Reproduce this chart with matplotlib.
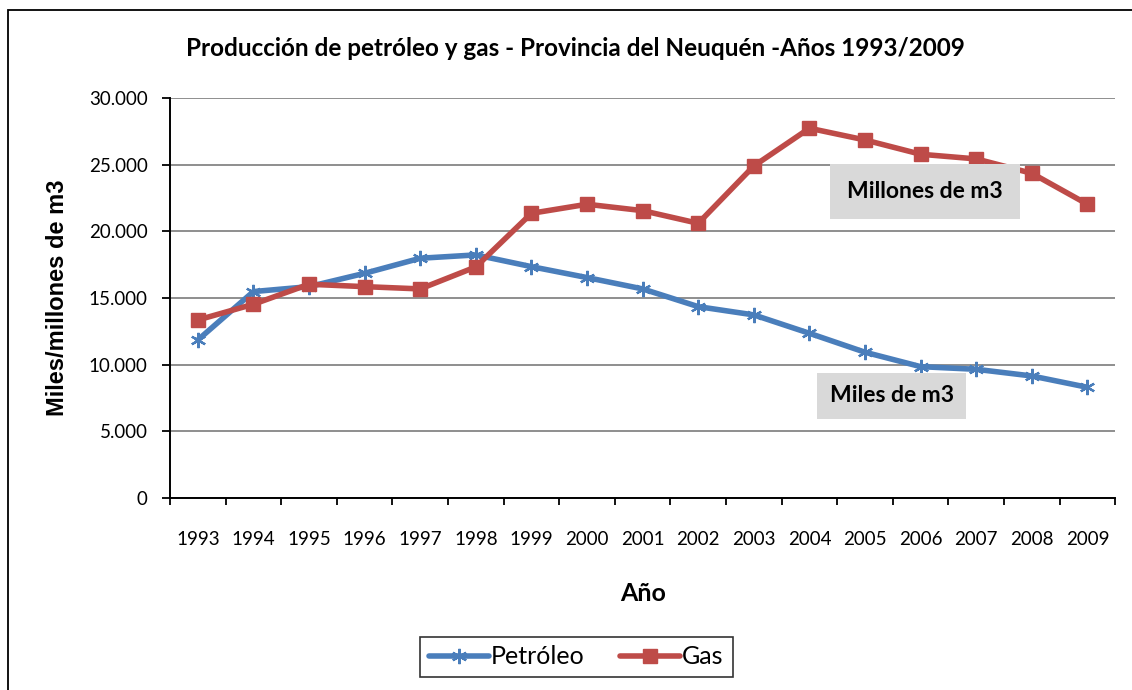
import matplotlib.pyplot as plt
from matplotlib.patches import Rectangle
from matplotlib.ticker import FuncFormatter, FixedLocator

# ---- data ----
years = ["1993", "1994", "1995", "1996", "1997", "1998", "1999", "2000", "2001",
         "2002", "2003", "2004", "2005", "2006", "2007", "2008", "2009"]
petroleo = [11850, 15480, 15850, 16850, 17980, 18230, 17350, 16530, 15680,
            14350, 13730, 12350, 10930, 9850, 9650, 9150, 8300]
gas = [13350, 14530, 16030, 15850, 15680, 17330, 21350, 22030, 21550,
       20600, 24900, 27730, 26850, 25780, 25430, 24350, 22030]

BLUE = "#4A7EBB"
RED = "#BE4B48"
FONT = "Lato"

plt.rcParams["font.family"] = [FONT, "DejaVu Sans"]

fig = plt.figure(figsize=(11.32, 6.9), dpi=100)
ax = fig.add_axes([0.1502, 0.2783, 0.835, 0.5797])

x = list(range(len(years)))
ax.plot(x, petroleo, color=BLUE, lw=4.0, marker=(6, 2, 0), ms=11, mew=1.6,
        label="Petróleo", zorder=3, solid_capstyle="round")
ax.plot(x, gas, color=RED, lw=4.0, marker="s", ms=10,
        label="Gas", zorder=4, solid_capstyle="round")

ax.set_xlim(-0.5, len(years) - 0.5)
ax.set_ylim(0, 30000)
ax.set_yticks(range(0, 30001, 5000))
ax.yaxis.set_major_formatter(FuncFormatter(lambda v, p: f"{int(v):,}".replace(",", ".")))

# category axis: labels in the middle, tick marks between categories
ax.xaxis.set_major_locator(FixedLocator(x))
ax.set_xticklabels(years)
ax.xaxis.set_minor_locator(FixedLocator([i - 0.5 for i in range(len(years) + 1)]))
ax.tick_params(axis="x", which="major", length=0, pad=24, labelsize=13.5)
ax.tick_params(axis="x", which="minor", length=5, width=1.3, direction="out")
ax.tick_params(axis="y", length=6, width=1.3, direction="out", labelsize=13.5, pad=10)

ax.yaxis.grid(True, color="#868686", lw=1.3)
ax.set_axisbelow(True)
for s in ["top", "right"]:
    ax.spines[s].set_visible(False)
for s in ["left", "bottom"]:
    ax.spines[s].set_linewidth(1.4)

fig.text(0.508, 0.93, "Producción de petróleo y gas - Provincia del Neuquén -Años 1993/2009",
         ha="center", va="center", fontsize=17.5, fontweight="bold")
ax.set_ylabel("Miles/millones de m3", fontsize=17, fontweight="bold",
              family="Liberation Sans", labelpad=14)
ax.set_xlabel("Año", fontsize=18, fontweight="bold", labelpad=24)

# grey label boxes
ax.text(13.08, 23000, "Millones de m3", ha="center", va="center", fontsize=16.5,
        fontweight="bold", zorder=6,
        bbox=dict(boxstyle="square,pad=0.75", fc="#D9D9D9", ec="none"))
ax.text(12.48, 7650, "Miles de m3", ha="center", va="center", fontsize=16.5,
        fontweight="bold", zorder=6,
        bbox=dict(boxstyle="square,pad=0.55", fc="#D9D9D9", ec="none"))

leg = fig.legend(loc="center", bbox_to_anchor=(0.509, 0.048), ncol=2, fontsize=18,
                 frameon=True, fancybox=False, edgecolor="black", handlelength=2.4,
                 handletextpad=0.1, columnspacing=1.4, borderpad=0.35)
leg.get_frame().set_linewidth(1.2)

# outer chart-area border
fig.patches.append(Rectangle((8 / 1132, -0.05), 1.1, 1.05 - 10 / 690,
                             transform=fig.transFigure, fill=False, ec="black", lw=1.3))

fig.savefig("out.png", dpi=100)
